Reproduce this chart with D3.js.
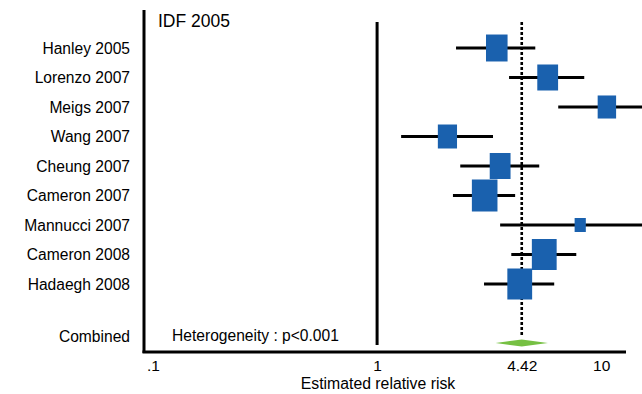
<!DOCTYPE html>
<html>
<head>
<meta charset="utf-8">
<script src="https://cdn.jsdelivr.net/npm/d3@7"></script>
<style>
  html, body { margin: 0; padding: 0; background: #fff; }
  svg { display: block; font-family: "Liberation Sans", Arial, sans-serif; }
</style>
</head>
<body>
<svg id="chart" width="642" height="394"></svg>
<script>
// Study labels, relative-risk estimates, 95% CIs and study weights (%)
const studies = ["Hanley 2005", "Lorenzo 2007", "Meigs 2007", "Wang 2007", "Cheung 2007",
                 "Cameron 2007", "Mannucci 2007", "Cameron 2008", "Hadaegh 2008"];
const rr      = [3.42, 5.77, 10.6, 2.06, 3.54, 3.02, 8.06, 5.57, 4.33];
const ciLow   = [2.25, 3.88, 6.43, 1.28, 2.35, 2.18, 3.54, 3.97, 3.00];
const ciHigh  = [5.08, 8.40, 16.0, 3.29, 5.29, 4.13, 16.0, 7.74, 6.17];
const weights = [11.5, 10.7, 8.4, 9.1, 10.7, 16.2, 3.1, 15.2, 15.2];

// Pooled estimate
const combinedLabel = "Combined";
const combinedRR = 4.42;
const combinedLow = 3.38;
const combinedHigh = 5.78;

const tickValues = [0.1, 1, 4.42, 10];
const tickLabels = [".1", "1", "4.42", "10"];
const xDomain = [0.0912, 12.9];

const svg = d3.select("#chart");
const blue = "#1a61ae", green = "#76c043";

const x = d3.scaleLog().domain(xDomain).range([144, 626]);
const rows = studies.concat(["", combinedLabel]);
const y = d3.scalePoint().domain(rows).range([48, 343]);
const side = d3.scaleSqrt().domain([0, d3.max(weights)]).range([0, 32]);

// Frame: left and bottom axis lines
svg.append("line").attr("x1", x(xDomain[0])).attr("x2", x(xDomain[0]))
  .attr("y1", 10).attr("y2", 353).attr("stroke", "#000").attr("stroke-width", 3);
svg.append("line").attr("x1", x(xDomain[0]) - 1.5).attr("x2", x(xDomain[1]))
  .attr("y1", 352).attr("y2", 352).attr("stroke", "#000").attr("stroke-width", 3);

// Null line at RR = 1
svg.append("line").attr("x1", x(1)).attr("x2", x(1))
  .attr("y1", 22).attr("y2", 345).attr("stroke", "#000").attr("stroke-width", 3);

// Dotted line at the pooled estimate
svg.append("line").attr("x1", x(combinedRR)).attr("x2", x(combinedRR))
  .attr("y1", 22).attr("y2", 337).attr("stroke", "#000").attr("stroke-width", 2.6)
  .attr("stroke-dasharray", "3,2");

// Confidence interval lines
const g = svg.append("g");
g.selectAll("line.ci").data(studies).join("line").attr("class", "ci")
  .attr("x1", (d, i) => x(ciLow[i])).attr("x2", (d, i) => x(ciHigh[i]))
  .attr("y1", d => y(d)).attr("y2", d => y(d))
  .attr("stroke", "#000").attr("stroke-width", 3);

// Weighted boxes
g.selectAll("rect.box").data(studies).join("rect").attr("class", "box")
  .attr("width", (d, i) => side(weights[i]) * 0.8)
  .attr("height", (d, i) => side(weights[i]))
  .attr("x", (d, i) => x(rr[i]) - side(weights[i]) * 0.4)
  .attr("y", (d, i) => y(d) - side(weights[i]) / 2)
  .attr("fill", blue);

// Pooled diamond
const cy = y(combinedLabel);
svg.append("path")
  .attr("d", `M${x(combinedLow)},${cy} L${x(combinedRR)},${cy - 3.5} L${x(combinedHigh)},${cy} L${x(combinedRR)},${cy + 3.5} Z`)
  .attr("fill", green);

// Row labels
svg.selectAll("text.lab").data(rows.filter(r => r !== "")).join("text").attr("class", "lab")
  .attr("x", 130)
  .attr("y", d => d === combinedLabel ? y(d) - 1 : y(d) + 5.5)
  .attr("text-anchor", "end").attr("font-size", 15.6).attr("fill", "#000")
  .text(d => d);

svg.append("text").attr("x", 158).attr("y", 27).attr("font-size", 17.5).attr("fill", "#000")
  .text("IDF 2005");
svg.append("text").attr("x", 172).attr("y", 341).attr("font-size", 15.6).attr("fill", "#000")
  .text("Heterogeneity : p<0.001");

// Bottom axis tick labels
const axis = d3.axisBottom(x).tickValues(tickValues).tickSize(0)
  .tickFormat((d, i) => tickLabels[i]);
const ax = svg.append("g").attr("transform", "translate(0,355)").call(axis);
ax.select(".domain").remove();
ax.selectAll("text").attr("font-size", 15.5).attr("fill", "#000")
  .attr("font-family", "Liberation Sans, Arial, sans-serif").attr("dy", "0.85em");

svg.append("text").attr("x", 378).attr("y", 389).attr("text-anchor", "middle")
  .attr("font-size", 15.8).attr("fill", "#000").text("Estimated relative risk");
</script>
</body>
</html>
